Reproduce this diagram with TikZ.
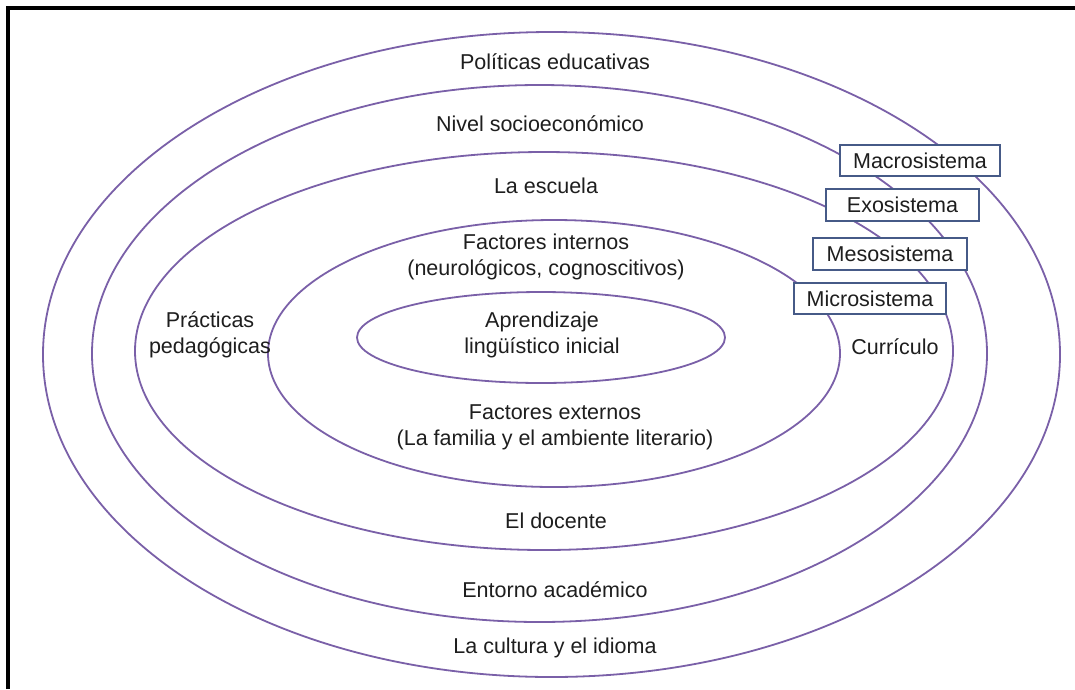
\documentclass[tikz,border=0pt]{standalone}
\usepackage{fontspec}
\setmainfont{Liberation Sans}
\definecolor{ringc}{RGB}{122,96,168}
\definecolor{boxc}{RGB}{70,90,135}
\definecolor{txtc}{RGB}{30,30,30}
\begin{document}
\begin{tikzpicture}[x=1pt,y=-1pt,
  ring/.style={draw=ringc, line width=1.8pt},
  lbl/.style={text=txtc, font=\fontsize{21.5}{26}\selectfont, align=center, inner sep=0pt},
  sysbox/.style={draw=boxc, line width=1.4pt, fill=white, text=txtc,
    font=\fontsize{21.5}{26}\selectfont, inner sep=0pt}]
\useasboundingbox (0,0) rectangle (1075,689);
\fill[white] (0,0) rectangle (1075,689);
\draw[line width=4pt, black] (8,689) -- (8,8) -- (1075,8);
% rings
\draw[ring] (551.5,354.5) ellipse [x radius=508.5, y radius=322.5];
\draw[ring] (539.5,353.5) ellipse [x radius=447.5, y radius=268.5];
\draw[ring] (544,351) ellipse [x radius=409, y radius=199];
\draw[ring] (554,353.5) ellipse [x radius=286, y radius=133.5];
\draw[ring] (541,337.5) ellipse [x radius=184, y radius=45.5];
% labels
\node[lbl] (pol) at (555,62) {Políticas educativas};
\node[lbl] (niv) at (540,124) {Nivel socioeconómico};
\node[lbl] (esc) at (546,186) {La escuela};
\node[lbl] (fint) at (546,257) {Factores internos\\(neurológicos, cognoscitivos)};
\node[lbl] (apr) at (542,334.5) {Aprendizaje\\lingüístico inicial};
\node[lbl] (pra) at (210,334.5) {Prácticas\\pedagógicas};
\node[lbl] (cur) at (895,347) {Currículo};
\node[lbl] (fext) at (555,427) {Factores externos\\(La familia y el ambiente literario)};
\node[lbl] (doc) at (556,521) {El docente};
\node[lbl] (ent) at (555,590) {Entorno académico};
\node[lbl] (cul) at (555,648) {La cultura y el idioma};
% system boxes
\node[sysbox, minimum width=160pt, minimum height=31pt] (macro) at (920,160.5) {Macrosistema};
\node[sysbox, minimum width=153pt, minimum height=32pt] (exo) at (902.5,205) {Exosistema};
\node[sysbox, minimum width=154pt, minimum height=32pt] (meso) at (890,254) {Mesosistema};
\node[sysbox, minimum width=152pt, minimum height=31pt] (micro) at (870,298.5) {Microsistema};
\end{tikzpicture}
\end{document}
